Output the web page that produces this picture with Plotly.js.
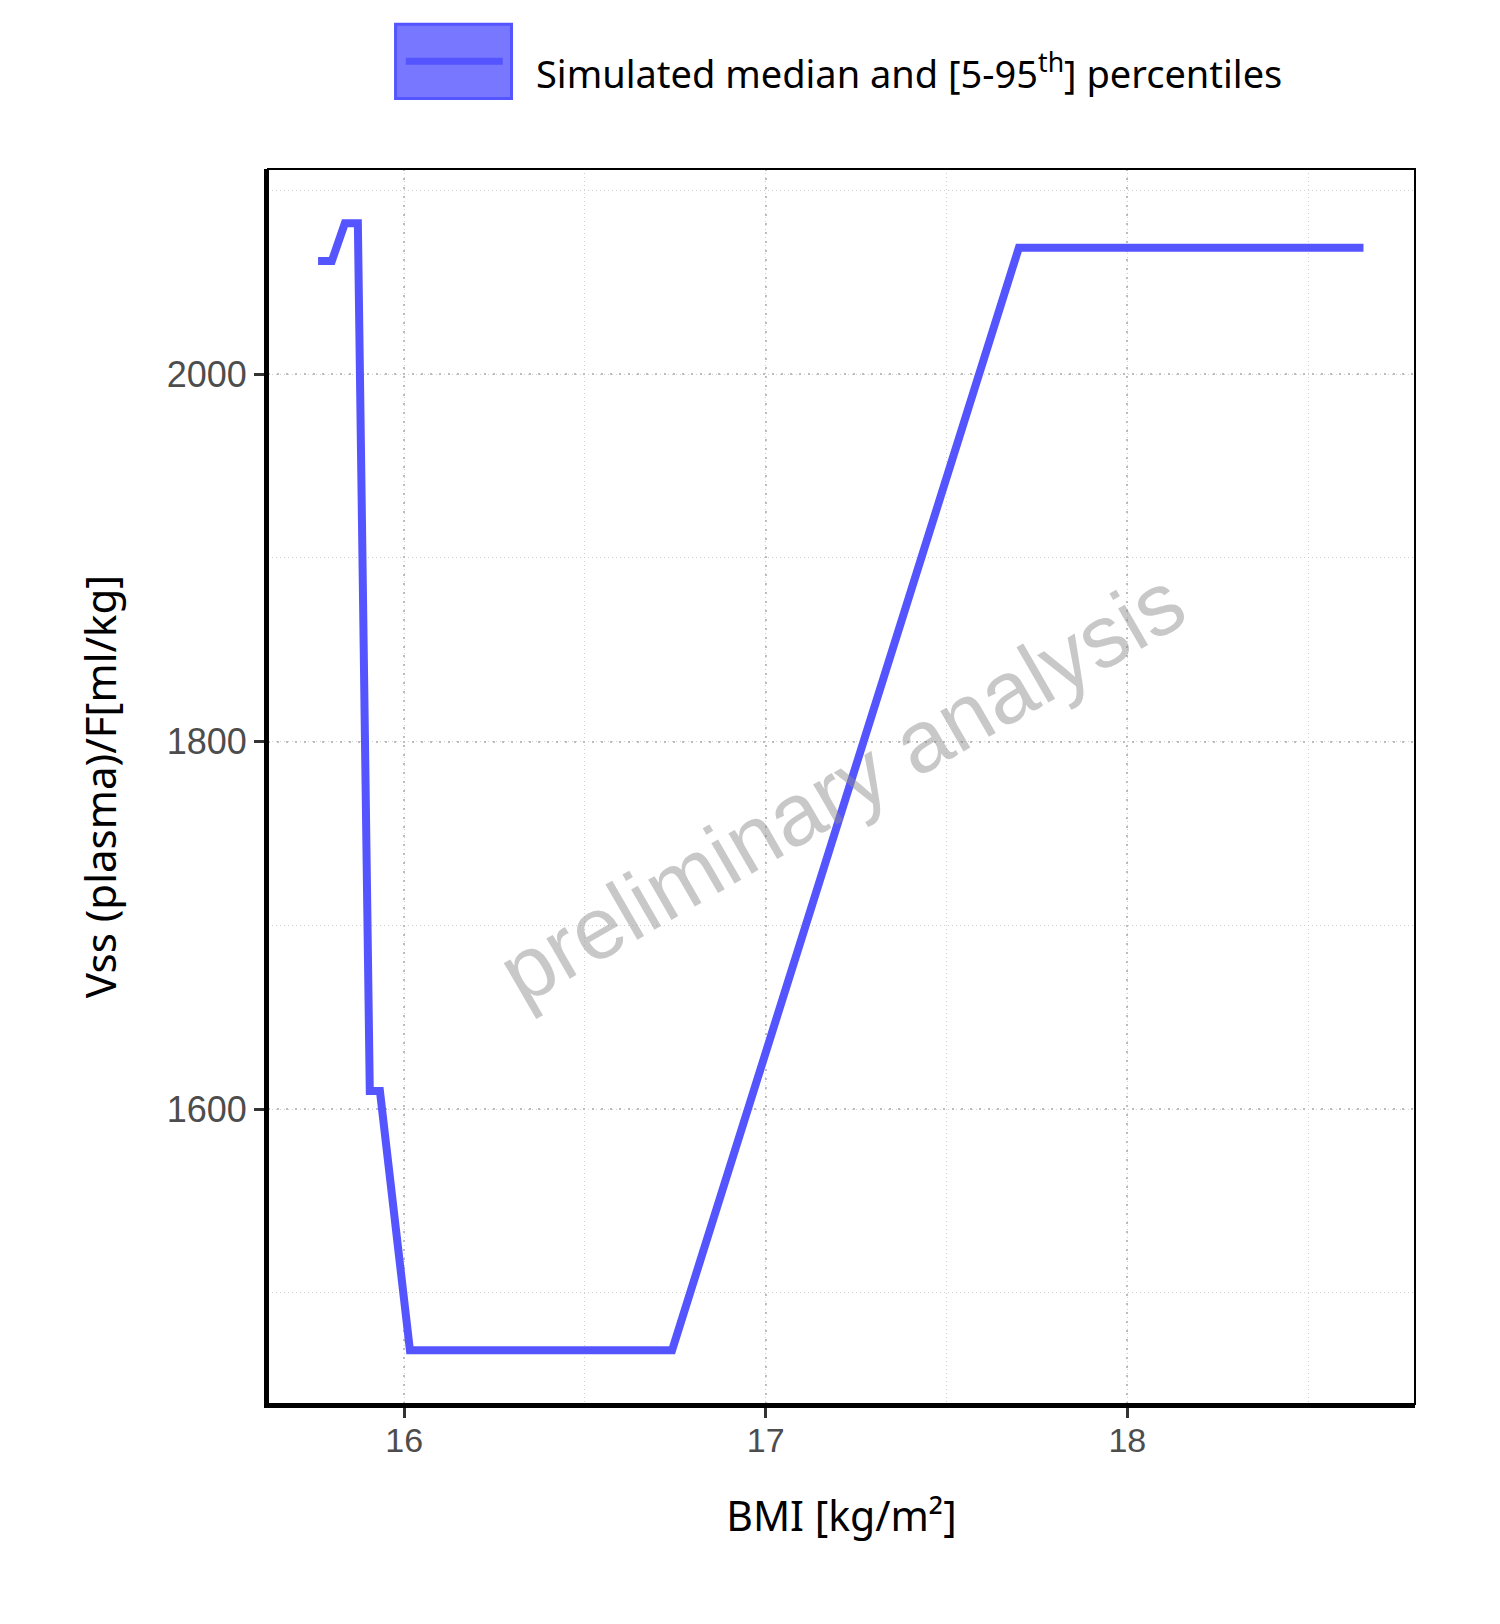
<!DOCTYPE html>
<html>
<head>
<meta charset="utf-8">
<script src="https://cdn.plot.ly/plotly-3.0.1.min.js"></script>
<style>
  html, body { margin: 0; padding: 0; background: #ffffff; }
  #chart { width: 1500px; height: 1624px; }
</style>
</head>
<body>
<div id="chart"></div>
<script>
// ---- data ----
const bmi = [15.762, 15.800, 15.836, 15.872, 15.905, 15.933, 16.016, 16.741, 17.700, 18.653];
const vssMedian = [2061.5, 2061.5, 2082.0, 2082.0, 1609.8, 1609.8, 1468.8, 1468.8, 2068.7, 2068.7];
const xTickVals = [16, 17, 18];
const yTickVals = [1600, 1800, 2000];
const legendLabel = 'Simulated median and [5-95<sup>th</sup>] percentiles';
const xTitle = 'BMI [kg/m²]';
const yTitle = 'Vss (plasma)/F[ml/kg]';
const watermark = 'preliminary analysis';

const lineColor = '#5555ff';

const traces = [{
  type: 'scatter',
  mode: 'lines',
  x: bmi,
  y: vssMedian,
  line: { color: lineColor, width: 8 },
  showlegend: false,
  hoverinfo: 'skip'
}];

const tickFont = { family: 'Liberation Sans, Arial, sans-serif', size: 34, color: '#4d4d4d' };

const layout = {
  width: 1500,
  height: 1624,
  margin: { l: 268, r: 85, t: 169, b: 220, pad: 0 },
  paper_bgcolor: '#ffffff',
  plot_bgcolor: '#ffffff',
  font: { family: 'Noto Sans, Open Sans, sans-serif', color: '#000000' },
  showlegend: false,
  xaxis: {
    range: [15.6235, 18.7955],
    tickvals: xTickVals,
    ticktext: xTickVals.map(String),
    ticks: 'outside', ticklen: 10, tickwidth: 3, tickcolor: '#333333',
    ticklabelstandoff: -7,
    tickfont: tickFont,
    showline: true, linecolor: '#000000', linewidth: 4,
    showgrid: true, gridcolor: '#bdbdbd', gridwidth: 2, griddash: '2px,7px',
    minor: { dtick: 0.5, tick0: 0, showgrid: true, gridcolor: '#d0d0d0', gridwidth: 1, griddash: '1px,3px', ticks: '' },
    zeroline: false,
    automargin: false,
    title: { text: xTitle, font: { family: 'Noto Sans, Open Sans, sans-serif', size: 41, color: '#000000' }, standoff: 46 }
  },
  yaxis: {
    range: [1439.5, 2111.56],
    tickvals: yTickVals,
    ticktext: yTickVals.map(String),
    ticks: 'outside', ticklen: 10, tickwidth: 3, tickcolor: '#333333',
    tickfont: Object.assign({}, tickFont, { size: 36 }),
    showline: true, linecolor: '#000000', linewidth: 4,
    showgrid: true, gridcolor: '#bdbdbd', gridwidth: 2, griddash: '2px,7px',
    minor: { dtick: 100, tick0: 0, showgrid: true, gridcolor: '#d0d0d0', gridwidth: 1, griddash: '1px,3px', ticks: '' },
    zeroline: false,
    automargin: false,
    title: { text: yTitle, font: { family: 'Noto Sans, Open Sans, sans-serif', size: 42, color: '#000000' }, standoff: 38 }
  },
  shapes: [
    // thin frame (top/right)
    { type: 'rect', xref: 'paper', yref: 'paper', x0: 0, x1: 1, y0: 0, y1: 1,
      line: { color: '#000000', width: 2 }, fillcolor: 'rgba(0,0,0,0)', layer: 'above' },
    // legend key box
    { type: 'rect', xref: 'paper', yref: 'paper', x0: 0.1112, x1: 0.2123, y0: 1.0570, y1: 1.1173,
      line: { color: lineColor, width: 3 }, fillcolor: '#7777ff' },
    // legend key line
    { type: 'line', xref: 'paper', yref: 'paper', x0: 0.1202, x1: 0.2047, y0: 1.0872, y1: 1.0872,
      line: { color: lineColor, width: 7 } }
  ],
  annotations: [
    { xref: 'paper', yref: 'paper', x: 0.2317, y: 1.0790, xanchor: 'left', yanchor: 'middle',
      text: legendLabel, showarrow: false,
      font: { family: 'Noto Sans, Open Sans, sans-serif', size: 38, color: '#000000' } },
    { xref: 'x', yref: 'y', x: 17.21, y: 1775.6, xanchor: 'center', yanchor: 'middle',
      text: watermark, showarrow: false, textangle: -30,
      font: { family: 'Liberation Sans, Arial, sans-serif', size: 88, color: 'rgba(140,140,140,0.48)' } }
  ]
};

Plotly.newPlot('chart', traces, layout, { displayModeBar: false, staticPlot: true });
</script>
</body>
</html>
